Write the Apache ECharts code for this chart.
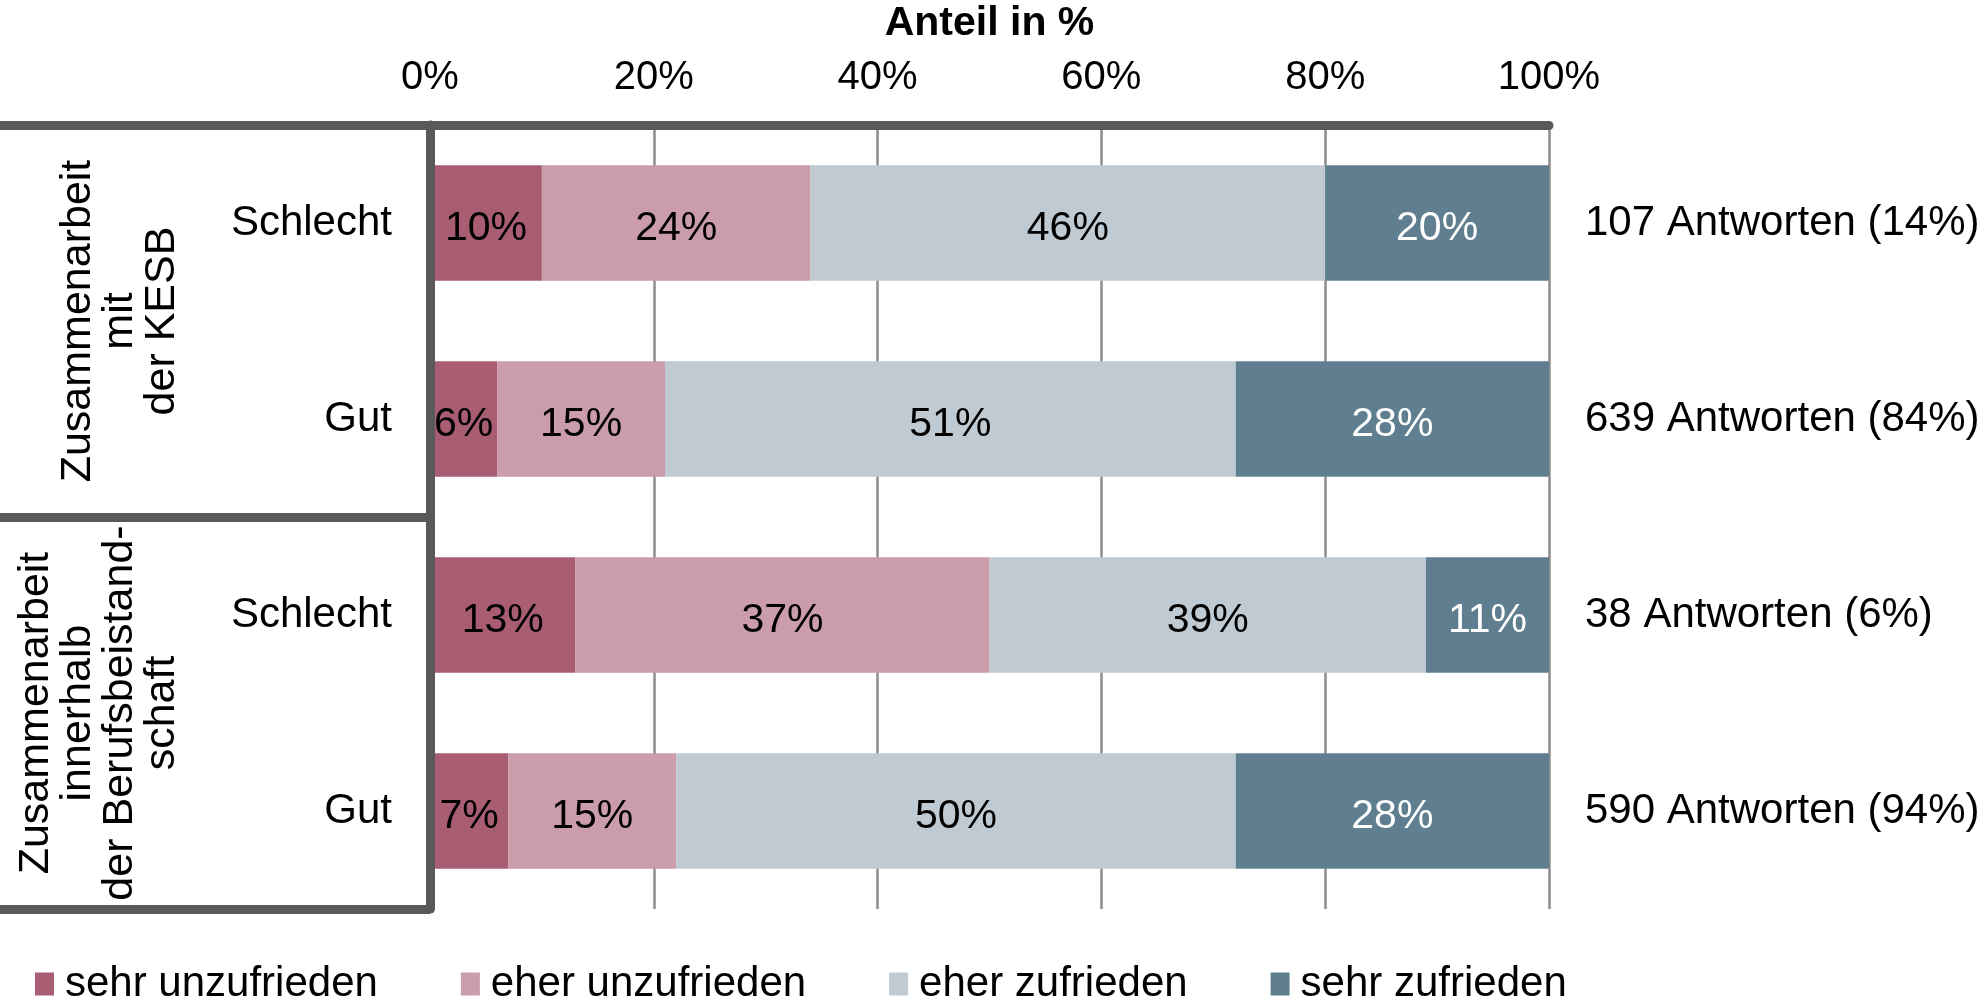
<!DOCTYPE html>
<html>
<head>
<meta charset="utf-8">
<script src="https://cdn.jsdelivr.net/npm/echarts@6/dist/echarts.min.js"></script>
<style>
  html, body { margin: 0; padding: 0; background: #fff; }
  #chart { width: 1984px; height: 1002px; }
</style>
</head>
<body>
<div id="chart"></div>
<script>
// Daten
var rowLabels = ['Schlecht', 'Gut', 'Schlecht', 'Gut'];
var groupLabels = ['Zusammenarbeit\nmit\nder KESB', 'Zusammenarbeit\ninnerhalb\nder Berufsbeistand-\nschaft'];
var answerLabels = ['107 Antworten (14%)', '639 Antworten (84%)', '38 Antworten (6%)', '590 Antworten (94%)'];
var seriesNames = ['sehr unzufrieden', 'eher unzufrieden', 'eher zufrieden', 'sehr zufrieden'];
var sehrUnzufrieden = [10, 6, 13, 7];
var eherUnzufrieden = [24, 15, 37, 15];
var eherZufrieden = [46, 51, 39, 50];
var sehrZufrieden = [20, 28, 11, 28];
var xTicks = [0, 20, 40, 60, 80, 100];

var font = "'Liberation Sans', Arial, sans-serif";
var dark = '#595959';
var colors = ['#a85d73', '#cb9ca9', '#bfcad2', '#5f7f90'];

var chart = echarts.init(document.getElementById('chart'));

function makeSeries(name, data, idx) {
  return {
    name: name,
    type: 'bar',
    stack: 'total',
    data: data,
    barCategoryGap: '41%',
    itemStyle: { color: colors[idx] },
    label: {
      show: true,
      position: 'inside',
      offset: [0, 6],
      formatter: function (p) { return p.value + '%'; },
      fontFamily: font,
      fontSize: 41,
      color: idx === 3 ? '#fff' : '#000'
    }
  };
}

chart.setOption({
  animation: false,
  textStyle: { fontFamily: font },
  grid: { left: 430, right: 435, top: 125, bottom: 93, outerBoundsMode: 'none' },
  legend: {
    data: seriesNames,
    left: 35,
    top: 963,
    padding: 0,
    icon: 'rect',
    itemWidth: 19,
    itemHeight: 23,
    itemGap: 83,
    textStyle: { fontFamily: font, fontSize: 42, color: '#000', padding: [0, 0, 0, 6] }
  },
  xAxis: {
    type: 'value',
    position: 'top',
    min: xTicks[0],
    max: xTicks[xTicks.length - 1],
    interval: 20,
    name: 'Anteil in %',
    nameLocation: 'middle',
    nameGap: 81,
    nameTextStyle: { fontFamily: font, fontSize: 41, fontWeight: 'bold', color: '#000' },
    axisLine: { show: true, lineStyle: { color: dark, width: 9 } },
    axisTick: { show: false },
    axisLabel: { formatter: '{value}%', fontFamily: font, fontSize: 40, color: '#000', margin: 27 },
    splitLine: { show: true, lineStyle: { color: '#8c8c8c', width: 2.5 } }
  },
  yAxis: [
    {
      type: 'category',
      data: rowLabels,
      inverse: true,
      z: 5,
      axisLine: { show: true, lineStyle: { color: dark, width: 9 } },
      axisTick: { show: false },
      axisLabel: { interval: 0, fontFamily: font, fontSize: 42, color: '#000', margin: 38, padding: [5, 0, 0, 0] }
    },
    {
      type: 'category',
      data: groupLabels,
      inverse: true,
      position: 'left',
      z: 5,
      axisLine: { show: false },
      axisTick: { show: true, interval: 0, length: 430, lineStyle: { color: dark, width: 9 } },
      axisLabel: {
        interval: 0, rotate: 90, fontFamily: font, fontSize: 43, lineHeight: 42,
        color: '#000', margin: 247
      }
    },
    {
      type: 'category',
      data: answerLabels,
      inverse: true,
      position: 'right',
      axisLine: { show: false },
      axisTick: { show: false },
      axisLabel: { interval: 0, fontFamily: font, fontSize: 42, color: '#000', margin: 36, align: 'left' }
    }
  ],
  series: [
    makeSeries(seriesNames[0], sehrUnzufrieden, 0),
    makeSeries(seriesNames[1], eherUnzufrieden, 1),
    makeSeries(seriesNames[2], eherZufrieden, 2),
    makeSeries(seriesNames[3], sehrZufrieden, 3)
  ]
});
</script>
</body>
</html>
